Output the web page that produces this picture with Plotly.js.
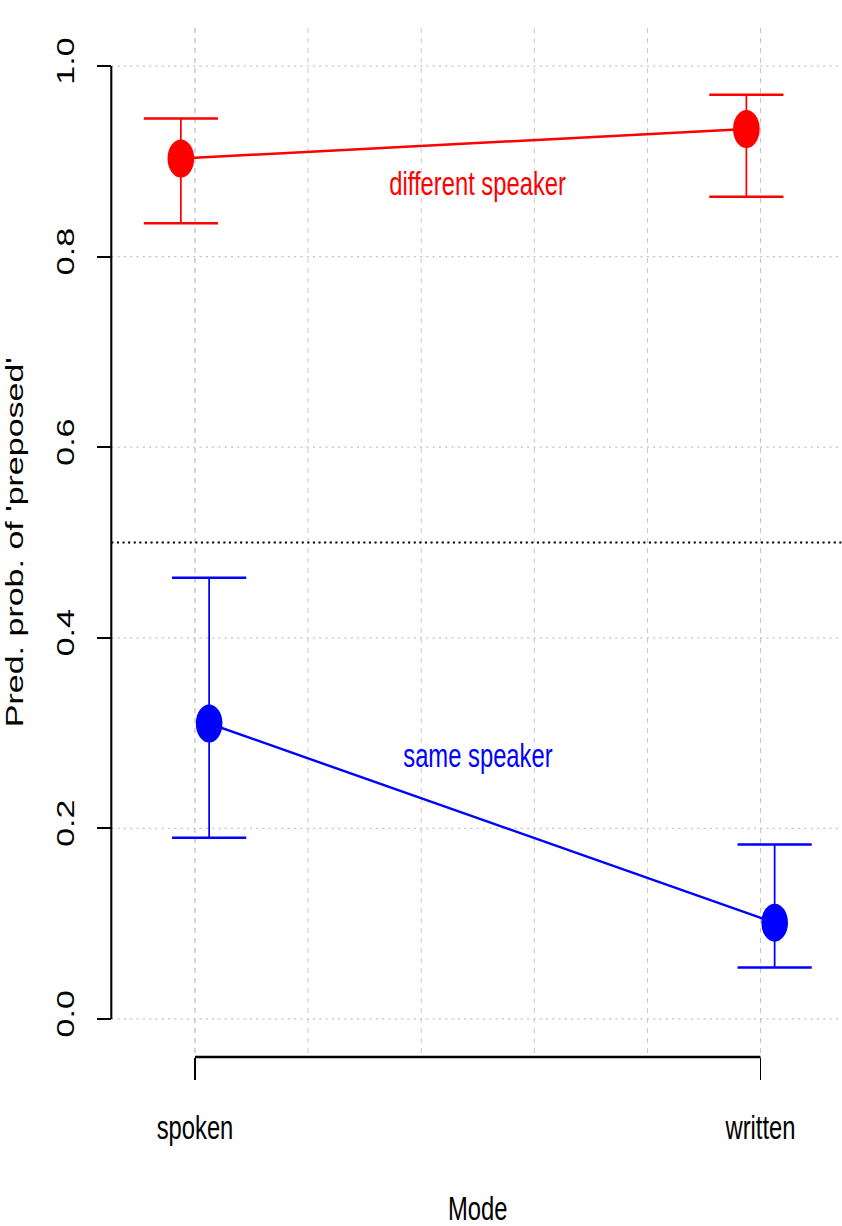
<!DOCTYPE html>
<html><head><meta charset="utf-8">
<script src="https://cdn.plot.ly/plotly-3.0.1.min.js"></script>
<style>
html,body{margin:0;padding:0;background:#fff;overflow:hidden;}
#wrap{width:842px;height:1226px;overflow:hidden;position:relative;}
#chart{width:1206px;height:1226px;transform:scaleX(0.7);transform-origin:0 0;}
</style></head><body>
<div id="wrap"><div id="chart"></div></div>
<script>
const modes = ['spoken', 'written'];
const modePos = [1, 2];
const groups = ['different speaker', 'same speaker'];
const diffFit = [0.903, 0.934];
const diffLower = [0.835, 0.863];
const diffUpper = [0.945, 0.970];
const sameFit = [0.310, 0.101];
const sameLower = [0.190, 0.054];
const sameUpper = [0.463, 0.183];
const yTicks = [0, 0.2, 0.4, 0.6, 0.8, 1.0];
const refLine = 0.5;
const labelY = [0.877, 0.277];
const xTitle = 'Mode';
const yTitle = "Pred. prob. of 'preposed'";

const FONT = 'Liberation Sans, Arial, Helvetica, sans-serif';
const GRID = '#c4c4c4';
const dodge = 0.025;

function trace(fit, lo, hi, off, color) {
  return {
    type: 'scatter', mode: 'lines+markers',
    x: modePos.map(p => p + off), y: fit,
    line: {color: color, width: 2.5},
    marker: {color: color, size: 38, symbol: 'circle'},
    error_y: {type: 'data', symmetric: false,
      array: fit.map((v, i) => hi[i] - v),
      arrayminus: fit.map((v, i) => v - lo[i]),
      color: color, thickness: 2.5, width: 53},
    hoverinfo: 'skip'
  };
}

const data = [
  trace(diffFit, diffLower, diffUpper, -dodge, '#ff0000'),
  trace(sameFit, sameLower, sameUpper, dodge, '#0000ff')
];

const layout = {
  width: 1206, height: 1226,
  margin: {l: 159, r: 0, t: 28, b: 169},
  paper_bgcolor: '#fff', plot_bgcolor: '#fff',
  showlegend: false,
  font: {family: FONT, size: 34, color: '#000'},
  xaxis: {
    range: [0.852, 2.148],
    tickvals: modePos, ticktext: modes,
    ticks: 'outside', ticklen: 22, tickwidth: 2, tickcolor: '#000',
    showline: false, zeroline: false,
    showgrid: true, gridcolor: GRID, griddash: '5px,5px', gridwidth: 1.3,
    minor: {tick0: 1, dtick: 0.2, showgrid: true, gridcolor: GRID, griddash: '5px,5px', gridwidth: 1.3, ticks: ''},
    tickfont: {family: FONT, size: 34, color: '#000'},
    ticklabelstandoff: 18
  },
  yaxis: {
    range: [-0.04, 1.04],
    tickvals: yTicks, tickformat: '.1f', tickangle: -90,
    ticks: 'outside', ticklen: 20, tickwidth: 2, tickcolor: '#000',
    showline: false, zeroline: false,
    showgrid: true, gridcolor: GRID, griddash: '3px,6px', gridwidth: 1.3,
    tickfont: {family: FONT, size: 34, color: '#000'},
    ticklabelstandoff: 18
  },
  shapes: [
    {type: 'line', xref: 'paper', x0: 0, x1: 0, yref: 'y', y0: yTicks[0], y1: yTicks[yTicks.length - 1],
      line: {color: '#000', width: 3}},
    {type: 'line', xref: 'x', x0: modePos[0], x1: modePos[1], yref: 'paper', y0: 0, y1: 0,
      line: {color: '#000', width: 2.5}},
    {type: 'line', xref: 'paper', x0: 0, x1: 1, yref: 'y', y0: refLine, y1: refLine,
      line: {color: '#000', width: 2, dash: '3px,5px'}}
  ],
  annotations: [
    {text: groups[0], x: (modePos[0] + modePos[1]) / 2, y: labelY[0], xref: 'x', yref: 'y',
      showarrow: false, font: {family: FONT, size: 34, color: '#ff0000'}},
    {text: groups[1], x: (modePos[0] + modePos[1]) / 2, y: labelY[1], xref: 'x', yref: 'y',
      showarrow: false, font: {family: FONT, size: 34, color: '#0000ff'}},
    {text: xTitle, x: (modePos[0] + modePos[1]) / 2, xref: 'x', y: -0.147, yref: 'paper',
      yanchor: 'middle', showarrow: false, font: {family: FONT, size: 34, color: '#000'}},
    {text: yTitle, x: -0.133, xref: 'paper', y: 0.5, yref: 'paper', textangle: -90,
      xanchor: 'center', yanchor: 'middle', showarrow: false, font: {family: FONT, size: 34, color: '#000'}}
  ]
};

Plotly.newPlot('chart', data, layout, {displayModeBar: false, staticPlot: true});
</script>
</body></html>
